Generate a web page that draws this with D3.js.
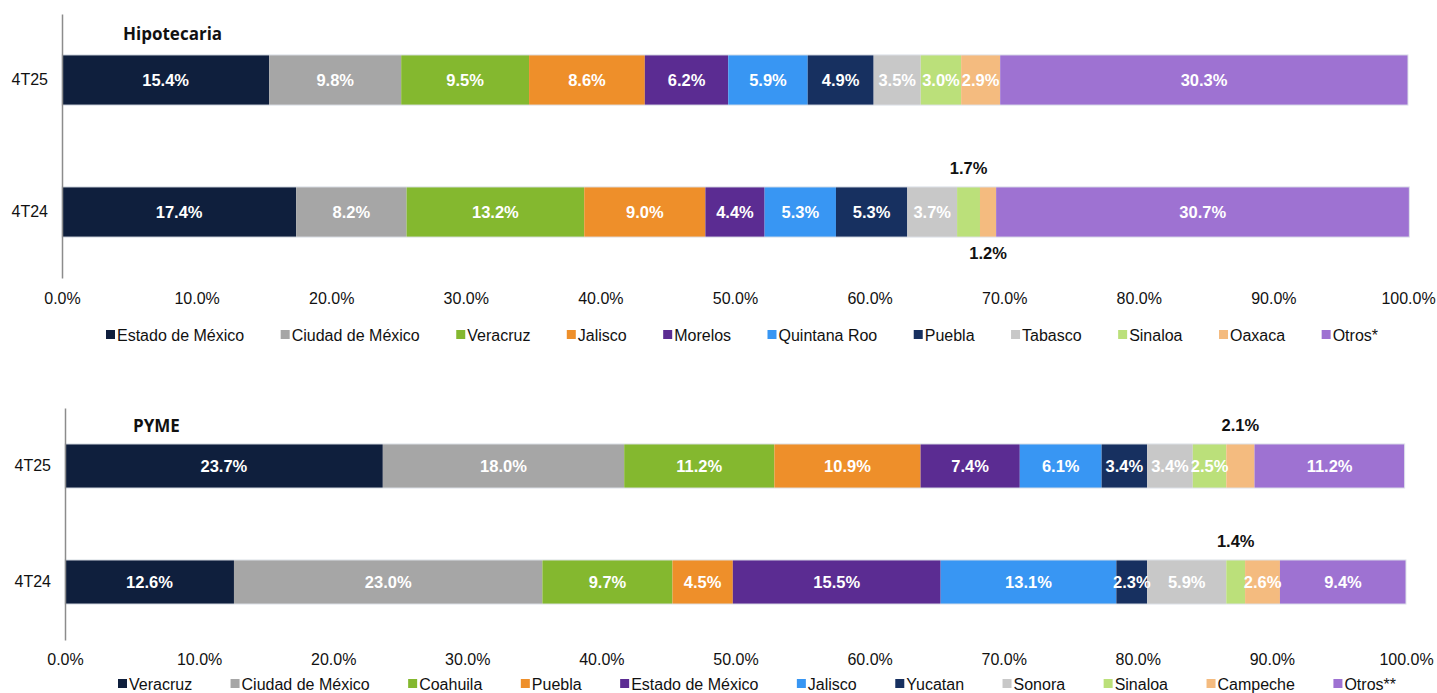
<!DOCTYPE html>
<html>
<head>
<meta charset="utf-8">
<script src="https://cdn.jsdelivr.net/npm/d3@7"></script>
<style>
  body { margin: 0; background: #fff; }
  text { font-family: "Liberation Sans", Arial, sans-serif; }
</style>
</head>
<body>
<div id="chart"></div>
<script>
"use strict";

// Data
var periods = ["4T25", "4T24"];
var ticks = [0, 0.1, 0.2, 0.3, 0.4, 0.5, 0.6, 0.7, 0.8, 0.9, 1.0];
var colors = ["#0f1f3d", "#a6a6a6", "#84b82f", "#ee8f2a", "#5b2c92", "#3896f3",
              "#173060", "#c8c8c8", "#bbe07a", "#f4bb7f", "#9e72d2"];

var hipoCategories = ["Estado de México", "Ciudad de México", "Veracruz", "Jalisco", "Morelos",
                      "Quintana Roo", "Puebla", "Tabasco", "Sinaloa", "Oaxaca", "Otros*"];
var hipo4T25 = [15.4, 9.8, 9.5, 8.6, 6.2, 5.9, 4.9, 3.5, 3.0, 2.9, 30.3];
var hipo4T24 = [17.4, 8.2, 13.2, 9.0, 4.4, 5.3, 5.3, 3.7, 1.7, 1.2, 30.7];
// labels that sit outside the bar: [period, category index, side]
var hipoOutside = [["4T24", 8, "above"], ["4T24", 9, "below"]];

var pymeCategories = ["Veracruz", "Ciudad de México", "Coahuila", "Puebla", "Estado de México",
                      "Jalisco", "Yucatan", "Sonora", "Sinaloa", "Campeche", "Otros**"];
var pyme4T25 = [23.7, 18.0, 11.2, 10.9, 7.4, 6.1, 3.4, 3.4, 2.5, 2.1, 11.2];
var pyme4T24 = [12.6, 23.0, 9.7, 4.5, 15.5, 13.1, 2.3, 5.9, 1.4, 2.6, 9.4];
var pymeOutside = [["4T25", 9, "above"], ["4T24", 8, "above"]];

var svg = d3.select("#chart").append("svg")
  .attr("width", 1437).attr("height", 693);

function drawPanel(cfg) {
  var x = d3.scaleLinear().domain([0, 1]).range([cfg.x0, cfg.x1]);
  var y = d3.scaleBand().domain(periods).range([cfg.yTop, cfg.yBottom])
    .paddingInner(0.62).paddingOuter(0.31);

  var g = svg.append("g");

  // stacked rows
  var rows = [{ period: "4T25", values: cfg.v25 }, { period: "4T24", values: cfg.v24 }];
  rows.forEach(function (row) {
    var acc = 0;
    var segs = row.values.map(function (v, i) {
      var s = { i: i, v: v, start: acc };
      acc += v;
      return s;
    });
    var rowG = g.append("g");
    rowG.selectAll("rect").data(segs).enter().append("rect")
      .attr("x", function (d) { return x(d.start / 100); })
      .attr("y", y(row.period))
      .attr("width", function (d) { return x(d.v / 100) - x(0); })
      .attr("height", y.bandwidth())
      .attr("fill", function (d) { return colors[d.i]; });

    // thin light outline round the bar
    rowG.append("rect")
      .attr("x", x(0)).attr("y", y(row.period))
      .attr("width", x(acc / 100) - x(0)).attr("height", y.bandwidth())
      .attr("fill", "none").attr("stroke", "#dfe3ea").attr("stroke-width", 1);

    rowG.selectAll("text.val").data(segs).enter().append("text")
      .attr("class", "val")
      .attr("x", function (d) { return x((d.start + d.v / 2) / 100); })
      .attr("y", function (d) {
        var out = cfg.outside.find(function (o) { return o[0] === row.period && o[1] === d.i; });
        if (!out) return y(row.period) + y.bandwidth() / 2;
        return out[2] === "above" ? y(row.period) - 19 : y(row.period) + y.bandwidth() + 16;
      })
      .attr("dy", "0.35em")
      .attr("text-anchor", "middle")
      .attr("font-size", 16.5)
      .attr("font-weight", "bold")
      .attr("fill", function (d) {
        var out = cfg.outside.find(function (o) { return o[0] === row.period && o[1] === d.i; });
        return out ? "#111" : "#fff";
      })
      .text(function (d) { return d.v.toFixed(1) + "%"; });
  });

  // left axis with period labels
  var yAxis = g.append("g")
    .attr("transform", "translate(" + cfg.x0 + ",0)")
    .call(d3.axisLeft(y).tickSize(0).tickPadding(14));
  yAxis.select(".domain").attr("stroke", "#8c8c8c").attr("stroke-width", 1.5);
  yAxis.selectAll("text").attr("font-size", 16).attr("fill", "#111")
    .style("font-family", "Liberation Sans, Arial, sans-serif");

  // bottom percentage axis
  var xAxis = g.append("g")
    .attr("transform", "translate(0," + cfg.tickY + ")")
    .call(d3.axisBottom(x).tickValues(ticks).tickFormat(d3.format(".1%")).tickSize(0).tickPadding(0));
  xAxis.select(".domain").remove();
  xAxis.selectAll("text").attr("font-size", 16).attr("fill", "#111").attr("dy", "0.35em")
    .style("font-family", "Liberation Sans, Arial, sans-serif");

  // title
  g.append("text")
    .attr("x", cfg.titleX).attr("y", cfg.titleY)
    .attr("font-size", 17).attr("font-weight", "bold")
    .style("font-family", "'Open Sans', 'Liberation Sans', sans-serif")
    .attr("fill", "#111")
    .text(cfg.title);

  // legend spread between two edges
  var leg = g.append("g");
  var items = leg.selectAll("g").data(cfg.categories).enter().append("g");
  items.append("rect")
    .attr("x", 0).attr("y", -5).attr("width", 9).attr("height", 9)
    .attr("fill", function (d, i) { return colors[i]; });
  items.append("text")
    .attr("x", 11).attr("y", 0).attr("dy", "0.35em")
    .attr("font-size", 16).attr("fill", "#111")
    .text(function (d) { return d; });
  var widths = [];
  items.each(function () { widths.push(this.getBBox().width); });
  var total = d3.sum(widths);
  var gap = (cfg.legEnd - cfg.legStart - total) / (widths.length - 1);
  var pos = cfg.legStart;
  items.attr("transform", function (d, i) {
    var t = "translate(" + pos + "," + cfg.legY + ")";
    pos += widths[i] + gap;
    return t;
  });
}

drawPanel({
  title: "Hipotecaria", titleX: 123, titleY: 40,
  categories: hipoCategories, v25: hipo4T25, v24: hipo4T24, outside: hipoOutside,
  x0: 62, x1: 1408, yTop: 14, yBottom: 278, tickY: 298,
  legStart: 106, legEnd: 1378, legY: 335
});

drawPanel({
  title: "PYME", titleX: 133, titleY: 432,
  categories: pymeCategories, v25: pyme4T25, v24: pyme4T24, outside: pymeOutside,
  x0: 65, x1: 1406, yTop: 408, yBottom: 640, tickY: 659,
  legStart: 118, legEnd: 1396, legY: 684
});
</script>
</body>
</html>
